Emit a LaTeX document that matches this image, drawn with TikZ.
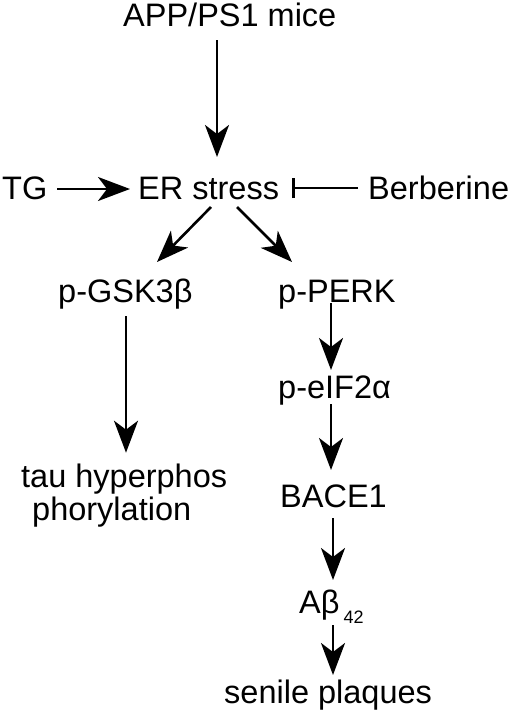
\documentclass[tikz,border=0pt]{standalone}
\usepackage{fontspec}
\setmainfont{Liberation Sans}
\usetikzlibrary{arrows.meta}
\begin{document}
\begin{tikzpicture}[x=1pt,y=-1pt,
  lbl/.style={inner sep=0pt,anchor=base west,font=\fontsize{32.5}{33}\selectfont},
  arr/.style={line width=2.6pt,-{Stealth[length=32pt,width=24pt,inset=9pt]}},
  inh/.style={line width=2.6pt,-{Bar[width=20pt,line width=2.6pt]}}]
\useasboundingbox (0,0) rectangle (512,712);
\node[lbl] (app) at (123,26) {APP/PS1 mice};
\node[lbl] (tg) at (2,199) {TG};
\node[lbl] (er) at (138,199) {ER stress};
\node[lbl] (ber) at (368,199) {Berberine};
\node[lbl] (gsk) at (58,302) {p-GSK3β};
\node[lbl] (perk) at (278,302) {p-PERK};
\node[lbl,anchor=north west,align=left] (tau) at (21,463.7) {tau hyperphos\\[0pt]\hspace*{11pt}phorylation};
\node[lbl] (eif) at (278,398) {p-eIF2α};
\node[lbl] (bace) at (280,507) {BACE1};
\node[lbl] (ab) at (299,613) {Aβ\kern4pt\raisebox{-10pt}{\fontsize{18}{18}\selectfont 42}};
\node[lbl] (sen) at (224,703) {senile plaques};
\draw[arr] ([shift={(94,14)}]app.base west) -- ([shift={(79,-42)}]er.base west);
\draw[arr] ([shift={(55,-10)}]tg.base west) -- ([shift={(-8,-10)}]er.base west);
\draw[inh] ([shift={(-10,-11)}]ber.base west) -- ([shift={(154,-11)}]er.base west);
\draw[arr] ([shift={(73,8)}]er.base west) -- ([shift={(99,-40)}]gsk.base west);
\draw[arr] ([shift={(99,8)}]er.base west) -- ([shift={(14,-40)}]perk.base west);
\draw[arr] ([shift={(68,14)}]gsk.base west) -- ([shift={(105,-11)}]tau.north west);
\draw[arr] ([shift={(53,1)}]perk.base west) -- ([shift={(53,-28)}]eif.base west);
\draw[arr] ([shift={(53,6)}]eif.base west) -- ([shift={(51,-37)}]bace.base west);
\draw[arr] ([shift={(53,11)}]bace.base west) -- ([shift={(34,-33)}]ab.base west);
\draw[arr] ([shift={(34,12)}]ab.base west) -- ([shift={(109,-28)}]sen.base west);
\end{tikzpicture}
\end{document}
